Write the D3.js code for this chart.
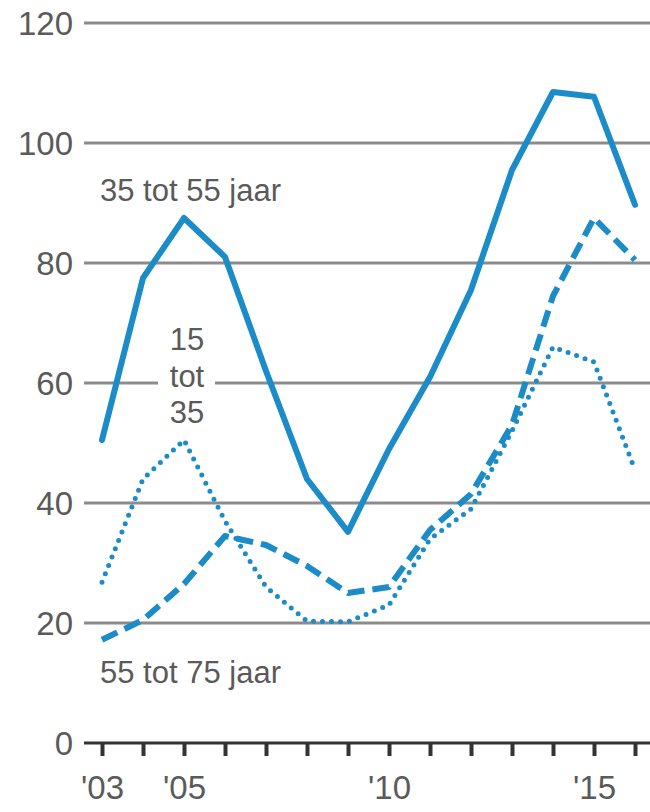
<!DOCTYPE html>
<html>
<head>
<meta charset="utf-8">
<script src="https://cdn.jsdelivr.net/npm/d3@7"></script>
<style>
  body { margin: 0; background: #fff; }
  svg text { font-family: "Liberation Sans", Arial, sans-serif; fill: #5a5a5a; }
</style>
</head>
<body>
<div id="chart"></div>
<script>
// data
const years = [2003, 2004, 2005, 2006, 2007, 2008, 2009, 2010, 2011, 2012, 2013, 2014, 2015, 2016];
const age35to55 = [50.5, 77.5, 87.5, 81, 62, 44, 35.2, 49, 61, 75.5, 95.5, 108.5, 107.7, 89.7];
const age15to35 = [26.8, 44, 50.5, 37, 26, 20.3, 20.2, 23, 34, 39, 52, 66, 63.5, 45.5];
const age55to75 = [17.2, 20.5, 26.5, 34.5, 33, 29.5, 25, 26, 35.5, 41.5, 53, 74.5, 87.5, 80.5];
const yTicks = [0, 20, 40, 60, 80, 100, 120];
const xLabels = { 2003: "'03", 2005: "'05", 2010: "'10", 2015: "'15" };

const width = 650, height = 812;
const blue = "#1b8cc8";

const svg = d3.select("#chart").append("svg")
    .attr("width", width)
    .attr("height", height);

const x = d3.scaleLinear().domain([2003, 2016]).range([102, 635]);
const y = d3.scaleLinear().domain([0, 120]).range([743, 23]);

// grid lines
svg.append("g")
    .selectAll("line")
    .data(yTicks.filter(d => d > 0))
    .enter().append("line")
    .attr("x1", 84).attr("x2", width)
    .attr("y1", d => y(d)).attr("y2", d => y(d))
    .attr("stroke", "#8c8c8c")
    .attr("stroke-width", 3);

// y labels
svg.append("g")
    .selectAll("text")
    .data(yTicks)
    .enter().append("text")
    .attr("x", 73)
    .attr("y", d => y(d))
    .attr("dy", "0.36em")
    .attr("text-anchor", "end")
    .style("font-size", "33px")
    .text(d => d);

// x axis
const xAxis = d3.axisBottom(x)
    .tickValues(years)
    .tickSize(13)
    .tickPadding(20)
    .tickFormat(d => xLabels[d] || "");
const gx = svg.append("g")
    .attr("transform", `translate(0,${y(0)})`)
    .call(xAxis);
gx.select(".domain").remove();
gx.selectAll(".tick line").attr("stroke", "#333").attr("stroke-width", 4);
gx.selectAll(".tick text")
    .attr("fill", "#5a5a5a")
    .style("font-size", "33px")
    .style("font-family", "Liberation Sans, Arial, sans-serif");
svg.append("line")
    .attr("x1", 84).attr("x2", width)
    .attr("y1", y(0)).attr("y2", y(0))
    .attr("stroke", "#333")
    .attr("stroke-width", 3);

// series
const series = [
  { values: age55to75, dash: "17,8", cap: "butt", w: 6 },
  { values: age15to35, dash: "0,9", cap: "round", w: 5 },
  { values: age35to55, dash: null, cap: "round", w: 6 }
];

const line = d3.line()
    .x((d, i) => x(years[i]))
    .y(d => y(d));

series.forEach(s => {
  svg.append("path")
      .datum(s.values)
      .attr("d", line)
      .attr("fill", "none")
      .attr("stroke", blue)
      .attr("stroke-width", s.w)
      .attr("stroke-linecap", s.cap)
      .attr("stroke-linejoin", "round")
      .attr("stroke-dasharray", s.dash);
});

// labels
svg.append("text")
    .attr("x", 100).attr("y", 201)
    .style("font-size", "31px")
    .text("35 tot 55 jaar");

svg.append("rect")
    .attr("x", 158).attr("y", 368)
    .attr("width", 57).attr("height", 28)
    .attr("fill", "#fff");
const lbl = ["15", "tot", "35"];
svg.append("g")
    .selectAll("text")
    .data(lbl)
    .enter().append("text")
    .attr("x", 187)
    .attr("y", (d, i) => 350 + i * 36.5)
    .attr("text-anchor", "middle")
    .style("font-size", "31px")
    .text(d => d);

svg.append("text")
    .attr("x", 100).attr("y", 683)
    .style("font-size", "31px")
    .text("55 tot 75 jaar");
</script>
</body>
</html>
